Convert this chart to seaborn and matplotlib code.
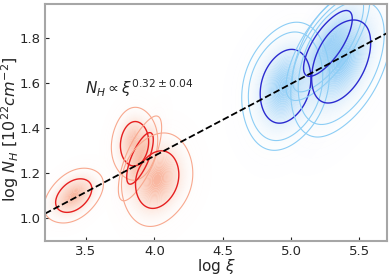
import numpy as np
import matplotlib
matplotlib.use("Agg")
import matplotlib.pyplot as plt
from matplotlib.colors import LinearSegmentedColormap
import seaborn as sns

# ---- data ----
r1_x = [3.41, 3.322, 3.498, 3.402, 3.418]
r1_y = [1.10, 1.076, 1.124, 1.144, 1.056]
r2_x = [3.855, 3.787, 3.923, 3.843, 3.867]
r2_y = [1.33, 1.314, 1.346, 1.394, 1.266]
r3_x = [3.895, 3.843, 3.947, 3.935, 3.855]
r3_y = [1.265, 1.189, 1.341, 1.257, 1.273]
r4_x = [4.02, 3.90, 4.14, 4.036, 4.004, 4.08, 3.96]
r4_y = [1.17, 1.194, 1.154, 1.258, 1.082, 1.226, 1.114]

b1_x = [4.96, 4.912, 5.008, 5.075, 4.845]
b1_y = [1.585, 1.477, 1.693, 1.567, 1.603]
b2_x = [5.27, 5.165, 5.375, 5.328, 5.212]
b2_y = [1.775, 1.68, 1.87, 1.752, 1.798]
b3_x = [5.37, 5.25, 5.49, 5.45, 5.29, 5.25]
b3_y = [1.70, 1.628, 1.788, 1.644, 1.764, 1.47]
b3_w = [1, 1, 1, 1, 1, 0.3]

fit_x = [3.2, 5.7]
fit_slope = 0.32
fit_intercept = 1.02 - 0.32 * 3.2

xticks = [3.5, 4.0, 4.5, 5.0, 5.5]
yticks = [1.0, 1.2, 1.4, 1.6, 1.8]

# ---- style ----
sns.set_style("white")
plt.rcParams["font.family"] = ["DejaVu Sans"]
plt.rcParams["mathtext.fontset"] = "dejavusans"

fig = plt.figure(figsize=(3.9, 2.76), dpi=100)
ax = fig.add_axes([0.1154, 0.128, 0.8761, 0.8575])

red_fill = LinearSegmentedColormap.from_list(
    "rf", [(1, 1, 1, 0.0), (0.99, 0.80, 0.72, 0.45), (0.97, 0.62, 0.50, 0.75)])
blue_fill = LinearSegmentedColormap.from_list(
    "bf", [(1, 1, 1, 0.0), (0.75, 0.88, 0.98, 0.45), (0.45, 0.75, 0.96, 0.75)])

red_light, red_dark = "#f8a88e", "#e62020"
blue_light, blue_dark = "#8ccdf5", "#2b2bd0"
BW = 2.0


def cluster(xs, ys, fill_cmap, light, dark, levels, w=None):
    sns.kdeplot(x=xs, y=ys, weights=w, fill=True, levels=40, thresh=0.01,
                bw_adjust=BW, cmap=fill_cmap, antialiased=True, ax=ax)
    n = len(levels)
    sns.kdeplot(x=xs, y=ys, weights=w, levels=levels,
                colors=[light] * (n - 1) + [dark], bw_adjust=BW,
                linewidths=[0.8] * (n - 1) + [1.0], ax=ax)


for xs, ys in [(r1_x, r1_y), (r2_x, r2_y), (r3_x, r3_y), (r4_x, r4_y)]:
    cluster(xs, ys, red_fill, red_light, red_dark, [0.15, 0.5])
for xs, ys, w in [(b1_x, b1_y, None), (b2_x, b2_y, None), (b3_x, b3_y, b3_w)]:
    cluster(xs, ys, blue_fill, blue_light, blue_dark, [0.12, 0.22, 0.5], w)

fx = np.array(fit_x)
sns.lineplot(x=fx, y=fit_intercept + fit_slope * fx, color="black",
             linestyle="--", linewidth=1.3, ax=ax)

ax.text(3.49, 1.575, r"$N_H \propto \xi^{0.32\pm0.04}$", fontsize=11,
        va="center", ha="left")

ax.set_xlim(3.2, 5.7)
ax.set_ylim(0.9, 1.95)
ax.set_xticks(xticks)
ax.set_yticks(yticks)
ax.set_xticklabels([f"{t:.1f}" for t in xticks])
ax.set_yticklabels([f"{t:.1f}" for t in yticks])
ax.tick_params(direction="in", length=3, width=0.8, labelsize=9.5,
               bottom=True, left=True, top=False, right=False, pad=3)
for s in ax.spines.values():
    s.set_color("#a6a6a6")
    s.set_linewidth(1.5)
ax.set_xlabel(r"log $\xi$", fontsize=11)
ax.set_ylabel(r"log $N_H$ [$10^{22}cm^{-2}$]", fontsize=11.5)
ax.xaxis.set_label_coords(0.5, -0.068)
ax.xaxis.label.set_verticalalignment("top")
ax.yaxis.set_label_coords(-0.070, 0.47)

fig.savefig("out.png", dpi=100)
